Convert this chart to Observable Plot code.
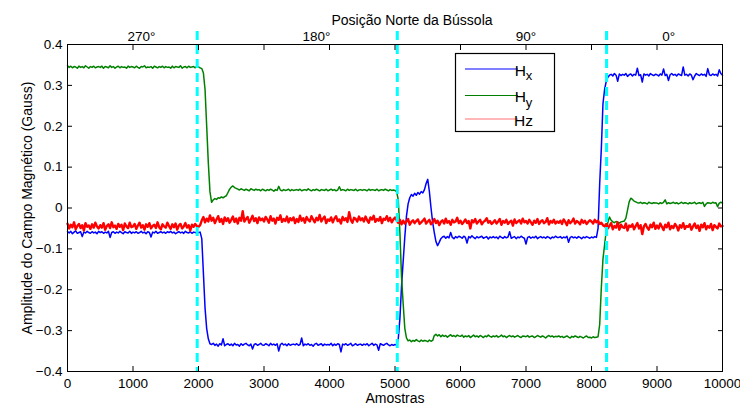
<!DOCTYPE html>
<html><head><meta charset="utf-8">
<script src="https://cdn.jsdelivr.net/npm/d3@7"></script>
<script src="https://cdn.jsdelivr.net/npm/@observablehq/plot@0.6"></script>
<style>
html,body{margin:0;padding:0;background:#fff;overflow:hidden;}
</style>
</head><body><div id="chart"></div>
<script>
// Samples every 25 (Amostras); values in thousandths of Gauss
const sampleStep = 25;
const hx = [
-58,-61,-57,-63,-59,-56,-62,-60,-58,-70,-59,-61,-57,-60,-62,-58,-61,-59,-63,-57,
-60,-58,-62,-59,-61,-57,-72,-60,-58,-62,-59,-61,-57,-60,-63,-58,-60,-61,-57,-62,
-59,-61,-58,-62,-60,-57,-61,-59,-63,-58,-60,-71,-59,-61,-57,-62,-60,-58,-61,-59,
-62,-58,-60,-57,-61,-59,-63,-60,-58,-61,-59,-62,-57,-60,-61,-58,-62,-59,-60,-61,
-60,-59,-75,-160,-245,-295,-320,-332,-334,-331,-336,-333,-338,-332,-335,-320,-337,-334,-332,-336,
-333,-337,-331,-335,-334,-338,-332,-336,-333,-331,-335,-337,-333,-345,-334,-332,-336,-334,-331,-335,
-336,-332,-334,-337,-331,-335,-333,-336,-332,-350,-334,-331,-335,-333,-337,-332,-336,-334,-333,-335,
-332,-336,-334,-318,-337,-333,-335,-332,-336,-334,-338,-333,-331,-336,-334,-332,-337,-333,-335,-334,
-335,-331,-337,-333,-336,-332,-334,-352,-333,-335,-332,-336,-334,-331,-337,-335,-332,-336,-334,-333,
-336,-333,-335,-332,-337,-334,-331,-336,-333,-335,-348,-332,-334,-336,-333,-331,-335,-337,-334,-336,
-334,-335,-320,-270,-190,-130,-70,-20,10,25,33,29,36,31,38,34,40,37,45,60,
70,40,0,-35,-60,-82,-92,-84,-75,-71,-69,-74,-70,-73,-60,-72,-75,-70,-73,-69,
-71,-74,-69,-72,-86,-70,-73,-68,-72,-75,-70,-73,-71,-69,-74,-72,-70,-76,-71,-73,
-70,-73,-71,-75,-69,-72,-74,-70,-73,-71,-58,-74,-72,-70,-75,-71,-73,-69,-72,-74,
-88,-72,-70,-74,-71,-73,-69,-75,-72,-70,-73,-71,-74,-70,-72,-75,-71,-73,-69,-72,
-72,-70,-74,-71,-73,-69,-84,-72,-70,-73,-71,-74,-70,-72,-75,-71,-73,-70,-72,-74,
-71,-73,-70,-72,-50,60,145,255,290,310,320,325,327,323,329,325,310,328,324,327,
325,329,322,326,328,323,327,325,342,324,326,308,328,325,327,323,329,326,324,327,
326,323,328,325,340,324,327,312,326,329,325,327,323,328,326,324,345,325,327,323,
328,325,314,323,329,326,324,328,325,327,322,341,326,324,328,325,327,323,338,329,
325];
const hy = [
348,344,347,343,346,345,342,347,344,346,343,348,345,342,346,344,347,343,345,346,
344,347,342,346,345,343,348,344,346,342,345,347,343,346,344,345,342,347,344,346,
345,343,347,344,342,346,345,348,343,345,344,346,342,347,345,343,346,344,347,343,
346,344,345,342,347,343,346,345,344,348,342,345,346,343,347,344,345,346,343,347,
345,343,341,330,290,200,110,40,14,20,23,21,25,24,27,25,28,30,38,46,
51,54,50,48,46,44,47,45,43,46,44,42,47,45,43,46,44,45,42,46,
44,42,45,43,46,44,41,45,43,53,44,42,45,43,44,46,42,45,43,44,
45,43,46,42,44,45,43,47,44,42,45,43,46,44,42,45,44,43,46,42,
44,46,43,45,42,44,52,43,45,44,42,46,43,45,44,43,46,42,44,45,
43,45,44,42,46,43,45,44,43,46,42,44,45,43,46,44,42,45,43,44,
43,40,20,-60,-170,-235,-295,-318,-325,-323,-327,-324,-326,-322,-325,-327,-323,-326,-324,-325,
-327,-323,-326,-324,-312,-309,-313,-310,-315,-311,-314,-312,-316,-313,-310,-314,-312,-315,-311,-313,
-314,-311,-316,-313,-315,-312,-317,-314,-311,-315,-313,-316,-312,-314,-317,-313,-315,-311,-314,-316,
-313,-315,-312,-316,-314,-311,-315,-313,-317,-314,-312,-315,-313,-316,-314,-312,-315,-317,-313,-314,
-315,-312,-316,-314,-313,-317,-315,-312,-314,-316,-313,-315,-318,-314,-312,-315,-313,-316,-314,-315,
-313,-316,-314,-317,-315,-313,-316,-318,-314,-316,-313,-315,-317,-314,-316,-318,-315,-313,-317,-316,
-318,-315,-317,-316,-315,-285,-195,-125,-90,-55,-35,-22,-30,-34,-36,-33,-35,-37,-34,-33,
-32,-25,-5,15,24,21,17,15,13,12,14,11,13,12,10,14,12,11,13,12,
12,10,13,11,14,20,10,13,11,12,14,11,13,10,12,14,11,13,12,10,
13,11,12,14,10,12,13,11,14,4,10,13,12,11,14,12,13,3,12,14,
12];
const hz = [
-38,-50,-41,-47,-35,-52,-44,-39,-49,-42,-55,-37,-46,-43,-51,-40,-48,-36,-45,-50,
-42,-48,-37,-53,-44,-40,-49,-35,-47,-43,-51,-39,-46,-41,-54,-38,-45,-49,-36,-47,
-45,-39,-51,-43,-36,-48,-42,-53,-40,-46,-37,-50,-44,-41,-49,-35,-47,-52,-40,-45,
-48,-36,-44,-51,-40,-47,-38,-53,-43,-39,-50,-45,-37,-48,-42,-55,-41,-46,-39,-44,
-46,-42,-30,-22,-35,-26,-33,-18,-31,-24,-37,-28,-20,-34,-27,-39,-23,-32,-25,-36,
-29,-21,-34,-26,-38,-24,-31,-8,-33,-27,-22,-36,-28,-19,-32,-25,-37,-23,-30,-26,
-33,-22,-28,-36,-20,-31,-26,-38,-24,-29,-18,-34,-27,-32,-21,-35,-25,-30,-23,-37,
-27,-34,-19,-31,-25,-36,-22,-29,-33,-20,-28,-35,-24,-30,-17,-33,-26,-21,-37,-28,
-31,-23,-35,-26,-20,-32,-28,-38,-22,-30,-25,-34,-10,-29,-36,-24,-27,-33,-21,-30,
-25,-33,-21,-30,-36,-23,-28,-19,-34,-27,-31,-22,-37,-26,-29,-20,-32,-24,-35,-28,
-23,-30,-36,-29,-40,-31,-38,-33,-27,-41,-34,-30,-37,-32,-28,-39,-35,-31,-26,-38,
-33,-29,-40,-35,-27,-37,-31,-42,-34,-30,-38,-26,-36,-32,-41,-29,-35,-33,-24,-37,
-31,-39,-34,-28,-37,-32,-50,-30,-35,-27,-38,-33,-29,-40,-34,-31,-25,-36,-32,-39,
-35,-30,-38,-33,-27,-41,-32,-36,-29,-39,-34,-31,-43,-28,-37,-33,-30,-38,-26,-35,
-32,-38,-29,-35,-41,-31,-36,-27,-39,-33,-30,-37,-34,-25,-40,-32,-36,-29,-38,-33,
-36,-31,-39,-28,-34,-42,-30,-37,-33,-26,-38,-32,-35,-40,-29,-36,-31,-39,-34,-30,
-33,-38,-29,-35,-31,-39,-36,-42,-45,-39,-50,-43,-37,-52,-44,-48,-35,-53,-41,-47,
-49,-38,-55,-43,-46,-40,-52,-44,-37,-50,-42,-64,-45,-39,-48,-53,-41,-47,-36,-51,
-43,-50,-38,-46,-54,-41,-47,-36,-52,-44,-49,-39,-45,-55,-42,-48,-37,-51,-44,-46,
-40,-53,-45,-38,-49,-43,-56,-41,-47,-37,-52,-44,-48,-39,-54,-42,-46,-50,-38,-45,
-44];

const xTicks = [0,1000,2000,3000,4000,5000,6000,7000,8000,9000,10000];
const yTicks = [-0.4,-0.3,-0.2,-0.1,0,0.1,0.2,0.3,0.4];
const compassLabels = ["270°","180°","90°","0°"];
const compassPos = [1130,3800,7000,9180];
const northMarks = [1980,5035,8230];
const seriesColors = ["#0000ff","#008000","#ff0000"];
const legendMain = ["H","H","Hz"];
const legendSub = ["x","y",""];
const legendColors = ["#0000ff","#008000","#ff7070"];
const titleText = "Posição Norte da Bússola";
const xLabel = "Amostras";
const yLabel = "Amplitude do Campo Magnético (Gauss)";

const font = "'Liberation Sans', Arial, Helvetica, sans-serif";
const toRows = arr => arr.map((v, i) => ({s: i * sampleStep, v: v / 1000}));
const fmtY = d => d === 0 ? "0" : (d < 0 ? "\u2212" : "") + Math.abs(d).toFixed(1);
const compassRows = compassLabels.map((t, i) => ({t, x: compassPos[i]}));

const svg = Plot.plot({
  width: 740, height: 405,
  marginLeft: 67, marginRight: 18, marginTop: 44, marginBottom: 34,
  style: {fontFamily: font, fontSize: "13.5px", color: "#000", background: "#fff"},
  x: {domain: [0, 10000]},
  y: {domain: [-0.4, 0.4]},
  marks: [
    Plot.line(toRows(hx), {x: "s", y: "v", stroke: seriesColors[0], strokeWidth: 1.5}),
    Plot.line(toRows(hy), {x: "s", y: "v", stroke: seriesColors[1], strokeWidth: 1.5}),
    Plot.line(toRows(hz), {x: "s", y: "v", stroke: seriesColors[2], strokeWidth: 2.4}),
    Plot.ruleX(northMarks, {stroke: "#00ffff", strokeWidth: 3, strokeDasharray: "9,5", insetTop: -13}),
    Plot.frame({stroke: "#000", strokeWidth: 1}),
    Plot.axisX({ticks: xTicks, tickSize: -5, tickPadding: 11.5, tickFormat: d => String(d), label: null}),
    Plot.axisX({anchor: "top", ticks: xTicks, tickSize: -5, tickFormat: () => "", label: null}),
    Plot.axisY({ticks: yTicks, tickSize: -5, tickPadding: 10, tickFormat: fmtY, label: null}),
    Plot.axisY({anchor: "right", ticks: yTicks, tickSize: -5, tickFormat: () => "", label: null}),
    Plot.text(compassRows, {x: "x", text: "t", frameAnchor: "top", textAnchor: "middle", lineAnchor: "middle", dy: -8, fontSize: 13.5}),
    Plot.text([titleText], {text: d => d, frameAnchor: "top", textAnchor: "middle", lineAnchor: "middle", dx: 17, dy: -24, fontSize: 14}),
    Plot.text([xLabel], {text: d => d, frameAnchor: "bottom", textAnchor: "middle", lineAnchor: "middle", dy: 27.5, fontSize: 14}),
    Plot.text([yLabel], {text: d => d, frameAnchor: "left", textAnchor: "middle", lineAnchor: "middle", rotate: -90, dx: -39.5, fontSize: 14})
  ]
});

// Legend (MATLAB style box)
const lg = d3.select(svg).append("g").attr("font-family", font).attr("font-size", 15.5);
lg.append("rect").attr("x", 455.5).attr("y", 53.5).attr("width", 99).attr("height", 78)
  .attr("fill", "#fff").attr("stroke", "#000").attr("stroke-width", 1.2);
const rowY = [69, 95.5, 119];
legendMain.forEach((m, i) => {
  lg.append("line").attr("x1", 465).attr("x2", 518).attr("y1", rowY[i]).attr("y2", rowY[i])
    .attr("stroke", legendColors[i]).attr("stroke-width", 1.2);
  const t = lg.append("text").attr("x", 523.5).attr("y", rowY[i] + 6.5).attr("fill", "#000").text(m);
  if (legendSub[i]) t.append("tspan").attr("dy", 4.5).attr("font-size", 13).text(legendSub[i]);
});

document.getElementById("chart").appendChild(svg);
</script>
</body></html>
